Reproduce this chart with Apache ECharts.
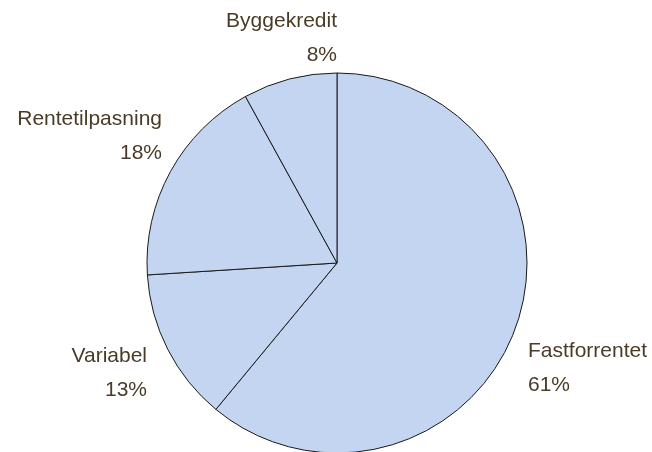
<!DOCTYPE html>
<html>
<head>
<meta charset="utf-8">
<script src="https://cdn.jsdelivr.net/npm/echarts@6/dist/echarts.min.js"></script>
<style>
  html, body { margin: 0; padding: 0; background: #ffffff; }
  #chart { width: 652px; height: 452px; }
</style>
</head>
<body>
<div id="chart"></div>
<script>
// Loan types and their share of the portfolio (percent), clockwise from 12 o'clock
const categories = ['Fastforrentet', 'Variabel', 'Rentetilpasning', 'Byggekredit'];
const shares = [61, 13, 18, 8];

// Where each label block sits: anchor x (text edge facing the pie), block centre y, alignment
const labelSpots = [
  { x: 528, y: 368, align: 'left' },
  { x: 147, y: 373, align: 'right' },
  { x: 162, y: 136, align: 'right' },
  { x: 337, y: 38, align: 'right' }
];

const chart = echarts.init(document.getElementById('chart'), null, { renderer: 'canvas' });

chart.setOption({
  animation: false,
  backgroundColor: '#ffffff',
  series: [{
    type: 'pie',
    center: [337, 263],
    radius: [0, 190],
    startAngle: 90,
    clockwise: true,
    avoidLabelOverlap: false,
    itemStyle: {
      color: '#c4d5f1',
      borderColor: '#1a1a1a',
      borderWidth: 1
    },
    emphasis: { disabled: true },
    label: {
      show: true,
      position: 'outside',
      formatter: p => p.name + '\n' + p.value + '%',
      fontFamily: '"Liberation Sans", Arial, sans-serif',
      fontSize: 21,
      lineHeight: 34,
      color: '#4a3b28'
    },
    labelLine: { show: false },
    labelLayout: params => {
      const s = labelSpots[params.dataIndex];
      return { x: s.x, y: s.y, align: s.align, verticalAlign: 'middle' };
    },
    data: categories.map((name, i) => ({ name: name, value: shares[i] }))
  }]
});
</script>
</body>
</html>
